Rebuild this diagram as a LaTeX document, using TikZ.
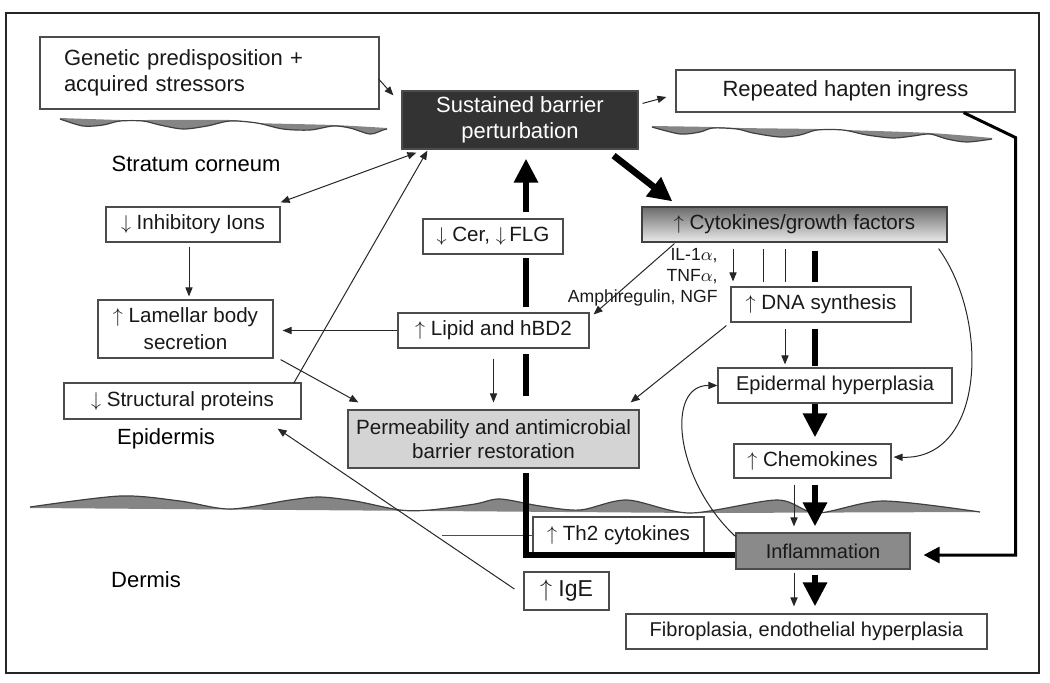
\documentclass[tikz,border=0pt]{standalone}
\usepackage{fontspec}
\setmainfont{Liberation Sans}
\setsansfont{Liberation Sans}
\usetikzlibrary{arrows.meta,calc}

\begin{document}
\begin{tikzpicture}[x=0.5pt, y=-0.5pt, font=\sffamily\fontsize{10.3}{12}\selectfont,
    >={Triangle[length=4.5pt,width=3.6pt]},
    box/.style={draw=black!70, line width=0.6pt, fill=white, inner sep=0pt, align=center, text=black!90},
    big/.style={font=\sffamily\fontsize{11}{13}\selectfont},
    link/.style={->, line width=0.5pt, black!85},
    heavy/.style={line width=3.3pt, black},
    heavytip/.style={-{Triangle[length=12pt,width=11.5pt]}},
    wavefill/.style={fill=black!48},
    waveline/.style={draw=black!75, line width=0.6pt}]
        \useasboundingbox (0,0) rectangle (1050,682);
        \draw[line width=1pt, black!85] (6,13) rectangle (1039,673);

        % skin layers
        \fill[wavefill] plot[smooth] coordinates {(60,119) (83,126) (103,125) (120,121) (143,121) (160,125) (183,129) (207,126) (230,121) (257,123) (283,129) (310,130) (333,126) (350,128) (370,134) (383,130) (387,129)}
          -- plot[smooth] coordinates {(387,128) (333,125) (257,123) (230,120) (143,120) (120,120) (60,118)} -- cycle;
        \draw[waveline] plot[smooth] coordinates {(60,119) (83,126) (103,125) (120,121) (143,121) (160,125) (183,129) (207,126) (230,121) (257,123) (283,129) (310,130) (333,126) (350,128) (370,134) (383,130) (387,129)};
        \fill[wavefill] plot[smooth] coordinates {(652,127) (680,134) (700,132) (713,128) (737,129) (753,133) (780,137) (800,135) (817,130) (843,130) (867,135) (893,138) (913,136) (930,134) (947,139) (967,142) (992,139)}
          -- plot[smooth] coordinates {(992,138) (930,133) (845,130) (817,129) (740,128) (713,127) (652,126)} -- cycle;
        \draw[waveline] plot[smooth] coordinates {(652,127) (680,134) (700,132) (713,128) (737,129) (753,133) (780,137) (800,135) (817,130) (843,130) (867,135) (893,138) (913,136) (930,134) (947,139) (967,142) (992,139)};
        \fill[wavefill] plot[smooth] coordinates {(30,507) (120,496) (180,501) (230,509) (290,500) (320,497) (355,501) (400,510) (430,510) (475,504) (500,499) (540,506) (580,510) (627,500) (690,513) (777,500) (817,513) (883,501) (980,512)}
          -- (700,513) -- (30,508) -- cycle;
        \draw[waveline] plot[smooth] coordinates {(30,507) (120,496) (180,501) (230,509) (290,500) (320,497) (355,501) (400,510) (430,510) (475,504) (500,499) (540,506) (580,510) (627,500) (690,513) (777,500) (817,513) (883,501) (980,512)};

        \node[big] (sc) at (196,164) {Stratum corneum};
        \node[big] (epd) at (166,439) {Epidermis};
        \node[big] (drm) at (146,580) {Dermis};

        % boxes
        \node[box, big, text width=145.5pt, inner xsep=12pt, minimum height=36pt, align=left] (gen) at (209.5,73) {Genetic predisposition +\\acquired stressors};
        \node[box, big, fill=black!80, text=white, minimum width=118pt, minimum height=29pt] (sbp) at (520,120) {Sustained barrier\\perturbation};
        \node[box, big, minimum width=169.5pt, minimum height=21pt] (rhi) at (845.5,91) {Repeated hapten ingress};
        \node[box, minimum width=87pt, minimum height=17.5pt] (inh) at (193,224.5) {$\downarrow$ Inhibitory Ions};
        \node[box, minimum width=70pt, minimum height=17.5pt] (cer) at (493,236.5) {$\downarrow$ Cer, $\downarrow$\,FLG};
        \node[box, draw=black!75, top color=black!58, bottom color=black!8, minimum width=152.5pt, minimum height=17.5pt] (cyt) at (794.5,224.5) {$\uparrow$ Cytokines/growth factors};
        \node[box, font=\sffamily\fontsize{10.3}{13.5}\selectfont, minimum width=87.5pt, minimum height=29pt] (lam) at (185.5,329) {$\uparrow$ Lamellar body\\secretion};
        \node[box, minimum width=95.5pt, minimum height=17.5pt] (lip) at (493.5,330.5) {$\uparrow$ Lipid and hBD2};
        \node[box, minimum width=90pt, minimum height=17.5pt] (dna) at (821,304.5) {$\uparrow$ DNA synthesis};
        \node[box, minimum width=118.5pt, minimum height=18pt] (str) at (182.5,401) {$\downarrow$ Structural proteins};
        \node[box, fill=black!17, font=\sffamily\fontsize{10.3}{12}\selectfont, minimum width=145.5pt, minimum height=29pt] (per) at (493.5,439) {Permeability and antimicrobial\\barrier restoration};
        \node[box, font=\sffamily\fontsize{10}{12}\selectfont, minimum width=117pt, minimum height=17.5pt] (epi) at (835,385.5) {Epidermal hyperplasia};
        \node[box, minimum width=78.5pt, minimum height=17pt] (che) at (812.5,461) {$\uparrow$ Chemokines};
        \node[box, minimum width=85.5pt, minimum height=18pt] (th2) at (618.5,535) {$\uparrow$ Th2 cytokines};
        \node[box, fill=black!46, font=\sffamily\fontsize{10}{12}\selectfont, minimum width=87pt, minimum height=18pt] (inf) at (823,551) {Inflammation};
        \node[box, font=\sffamily\fontsize{11.5}{13}\selectfont, minimum width=42.5pt, minimum height=19pt] (ige) at (566.5,591) {$\uparrow$ IgE};
        \node[box, font=\sffamily\fontsize{10}{12}\selectfont, minimum width=180.5pt, minimum height=17.5pt] (fib) at (806.5,631.5) {Fibroplasia, endothelial hyperplasia};
        \node[anchor=east, align=right, inner sep=0pt, text=black!90, font=\sffamily\fontsize{8.8}{10.5}\selectfont] (cytlab) at (718,277) {IL-1$\alpha$,\\TNF$\alpha$,\\Amphiregulin, NGF};

        % columns of the vertical arrows
        \coordinate (spine) at (526,0);
        \coordinate (trunk) at (815,0);
        \coordinate (lanea) at (733,0);
        \coordinate (laneb) at (763,0);
        \coordinate (lanec) at (785,0);
        \coordinate (laned) at (794,0);
        \coordinate (th2end) at (442,535);

        % thin connectors
        \draw[link] ($(gen.east)+(-1,6)$) -- ($(sbp.north west)+(-8,5)$);
        \draw[link] ($(sbp.north east)+(4,13)$) -- ($(rhi.west)+(-9,6)$);
        \draw[link, <->] ($(sbp.south west)+(15,3)$) -- ($(inh.north east)+(0,-4)$);
        \draw[link, shorten <=2pt, shorten >=1.5pt] ($(inh.south)+(-4,0)$) -- ($(lam.north)+(3.5,0)$);
        \draw[link] ($(str.north east)+(-8,1)$) -- ($(sbp.south west)+(26,1)$);
        \draw[link, shorten >=4.5pt] (lip.west) -- (lip.west -| lam.east);
        \draw[link] ($(lam.south east)+(7,1)$) -- ($(per.north west)+(11,-7)$);
        \draw[link, shorten <=5pt, shorten >=3.5pt] (lip.south) -- (per.north);
        \draw[link] ($(cyt.south west)+(33,1)$) -- ($(lip.north east)+(4,2)$);
        \draw[link] ($(dna.south west)+(-4,3)$) -- ($(per.north east)+(-9,-7)$);
        \draw[link] ($(ige.west)+(-9,-2)$) -- ($(str.south east)+(-24,9)$);
        \draw[line width=0.5pt, black!70] (th2.west) -- (th2end);
        \draw[link] ($(cyt.south east)+(-9,6)$) .. controls (990,320) and (985,460) .. ($(che.east)+(2,-4)$);
        \draw[link] ($(inf.north west)+(0,4)$) .. controls (675,480) and (665,385) .. (epi.west);

        % cytokine column
        \draw[link, shorten <=3pt, shorten >=2.5pt] (cyt.south -| lanea) -- (dna.north -| lanea);
        \foreach \l in {laneb,lanec}
          \draw[line width=0.5pt, black!85, shorten <=3pt, shorten >=2pt] (cyt.south -| \l) -- (dna.north -| \l);
        \draw[link, shorten <=3pt, shorten >=1.5pt] (dna.south -| lanec) -- (epi.north -| lanec);
        \draw[link, shorten <=3pt, shorten >=3pt] (che.south -| laned) -- (inf.north -| laned);
        \draw[link, shorten <=1.5pt, shorten >=3.5pt] (inf.south -| laned) -- (fib.north -| laned);
        \draw[heavy, shorten <=4pt, shorten >=2pt] (cyt.south -| trunk) -- (dna.north -| trunk);
        \draw[heavy, shorten <=3pt, shorten >=0.5pt] (dna.south -| trunk) -- (epi.north -| trunk);
        \draw[heavy, heavytip, shorten >=3pt] (epi.south -| trunk) -- (che.north -| trunk);
        \draw[heavy, heavytip, shorten <=3pt, shorten >=3pt] (che.south -| trunk) -- (inf.north -| trunk);
        \draw[heavy, heavytip, shorten <=2.5pt, shorten >=3.5pt] (inf.south -| trunk) -- (fib.north -| trunk);

        % barrier loop
        \draw[heavy, heavytip] ($(sbp.south east)+(-25,6)$) -- ($(cyt.north west)+(31,-5)$);
        \draw[heavy] ($(inf.west)+(0,4)$) -| ($(per.south -| spine)+(0,4)$);
        \draw[heavy, shorten <=6.5pt, shorten >=2.5pt] (per.north -| spine) -- (lip.south -| spine);
        \draw[heavy, shorten <=2.5pt, shorten >=1.5pt] (lip.north -| spine) -- (cer.south -| spine);
        \draw[heavy, heavytip, shorten <=3pt, shorten >=4.5pt] (cer.north -| spine) -- (sbp.south -| spine);
        \draw[line width=1.5pt, black, -{Triangle[length=8pt,width=8pt]}] ($(rhi.south east)+(-52,0)$) -- ($(rhi.south east)+(0,25)$) |- ($(inf.east)+(13,4)$);
      \end{tikzpicture}
\end{document}
